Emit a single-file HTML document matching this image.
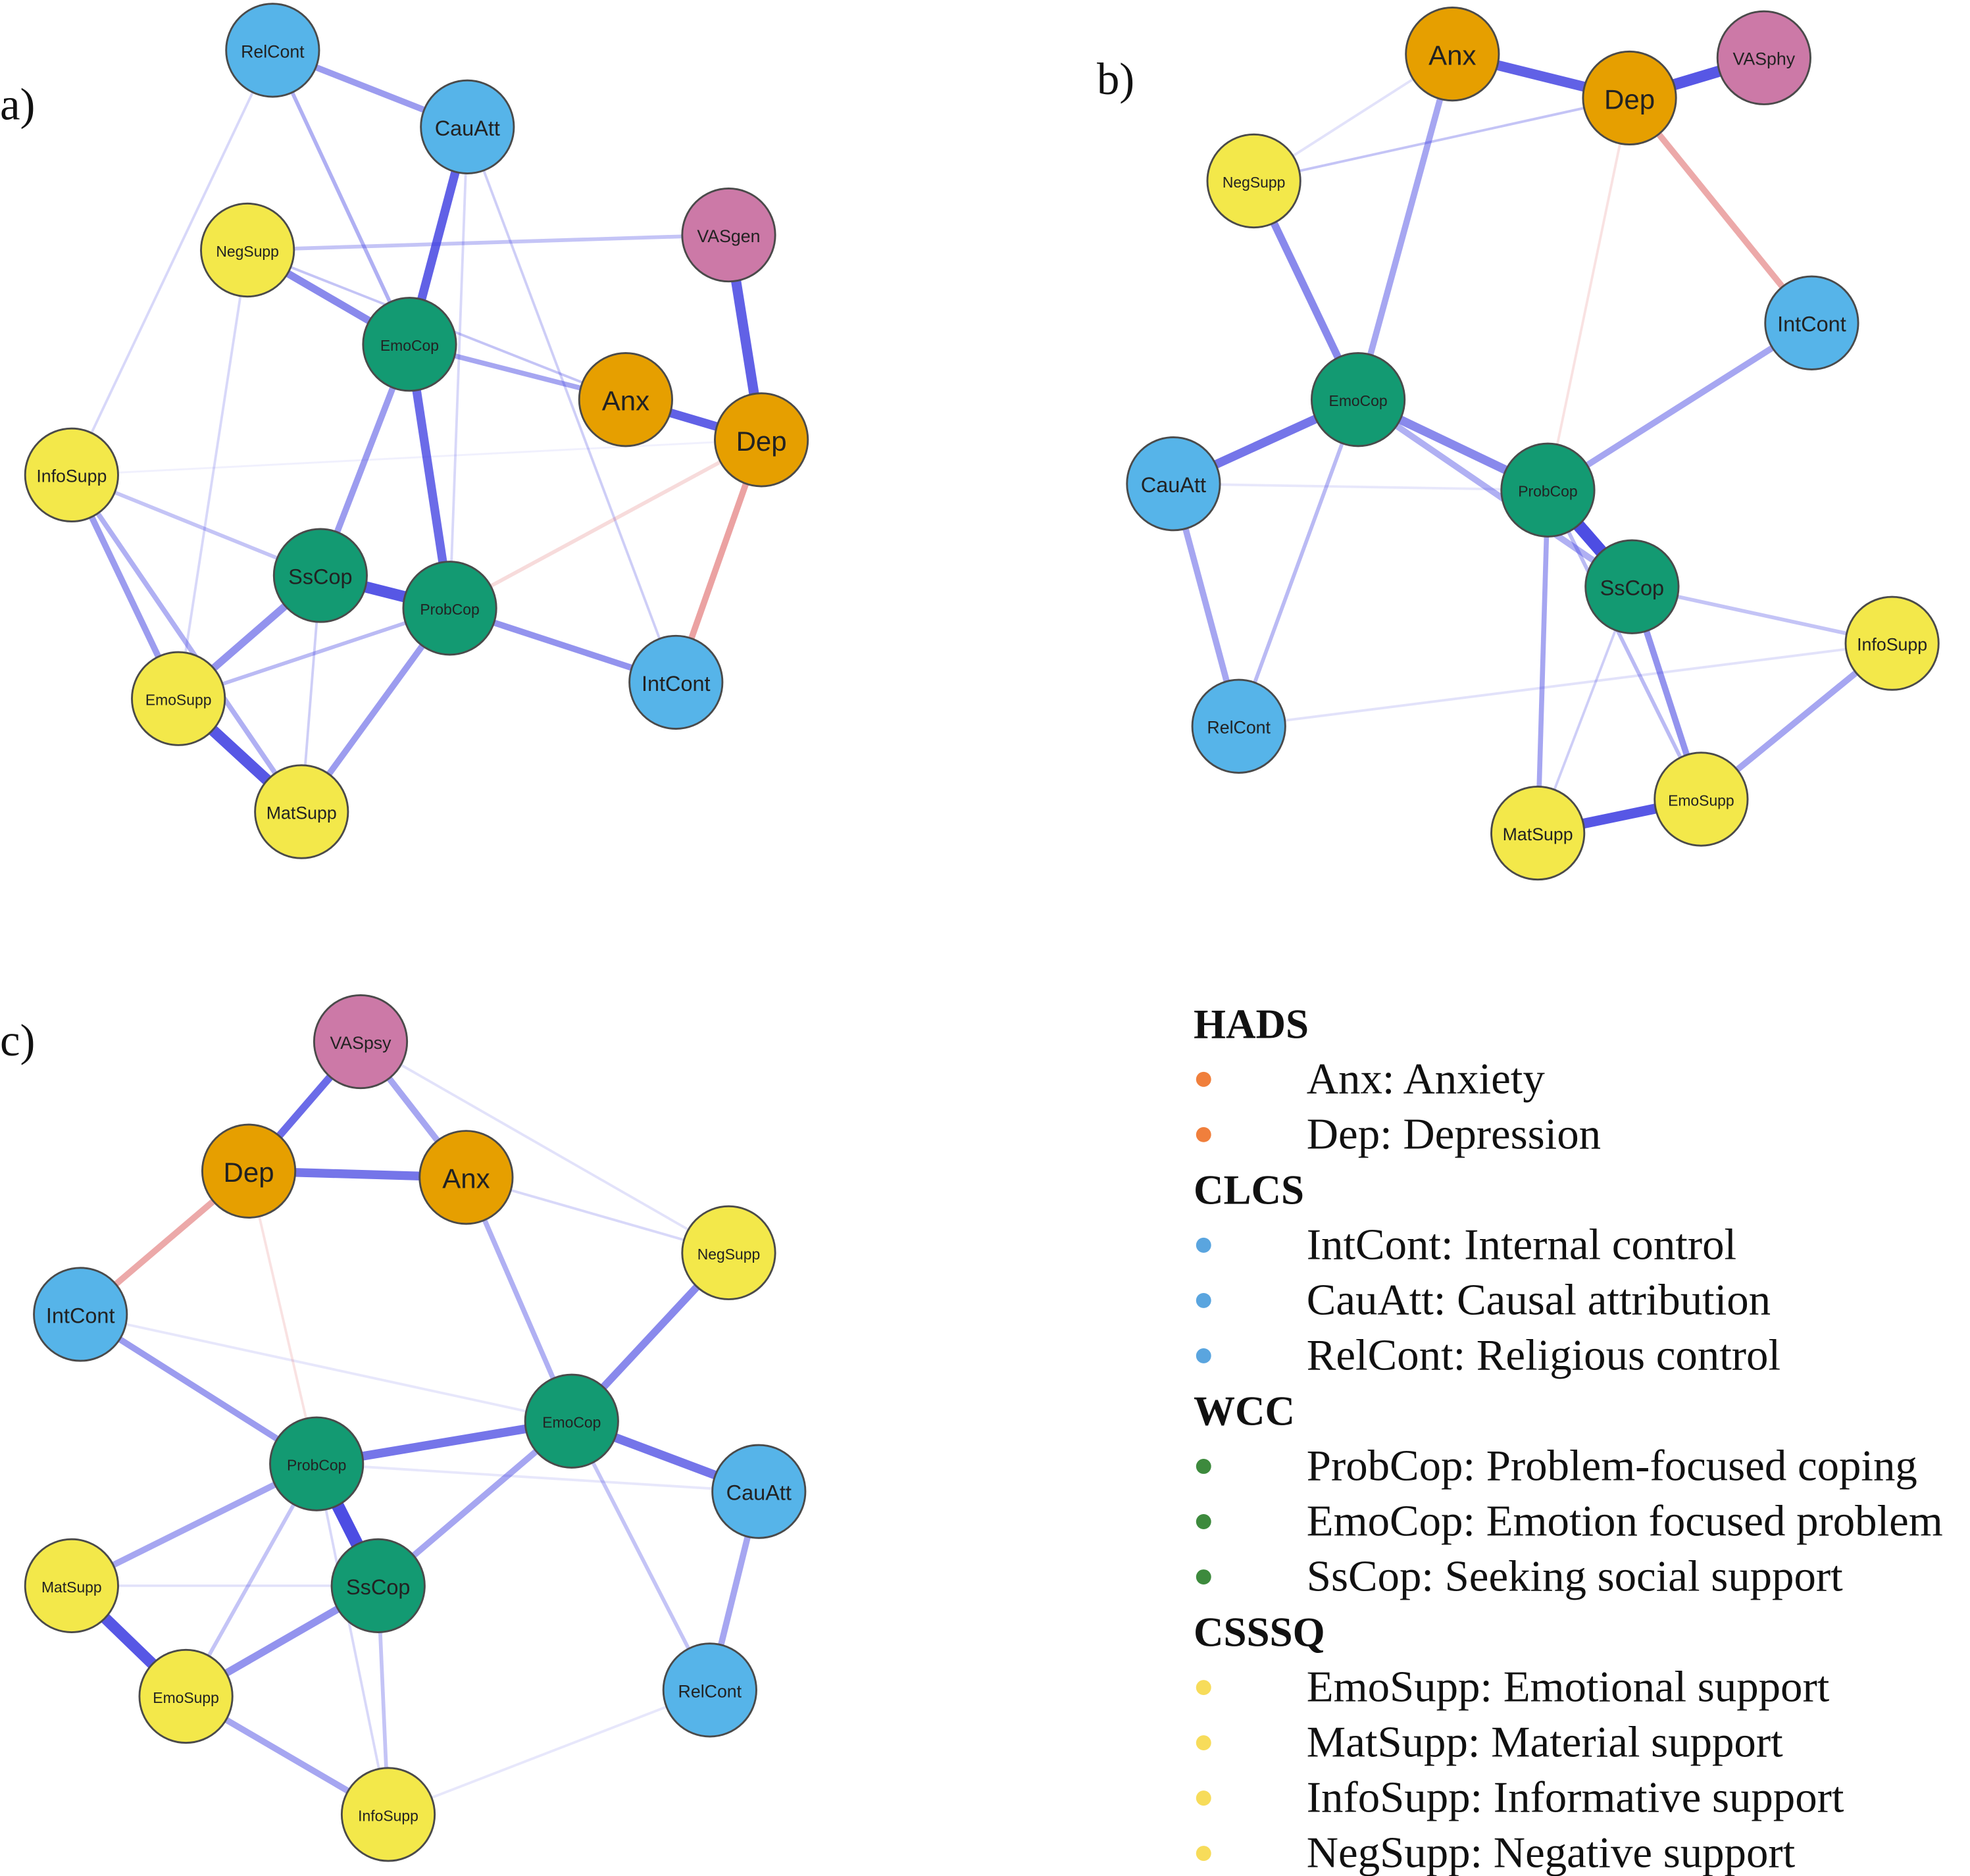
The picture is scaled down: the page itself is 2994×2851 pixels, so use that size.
<!DOCTYPE html>
<html><head><meta charset="utf-8"><style>html,body{margin:0;padding:0;background:#fff}svg{display:block}</style></head>
<body>
<svg width="2994" height="2851" viewBox="0 0 1568 1493" preserveAspectRatio="none" xmlns="http://www.w3.org/2000/svg">
<rect width="1568" height="1493" fill="#fff"/>
<g stroke-linecap="round" fill="none">
<g stroke="#3a3ae0">
<line x1="217" y1="40" x2="372" y2="101" stroke-width="5" opacity=".5"/>
<line x1="217" y1="40" x2="326" y2="274" stroke-width="3" opacity=".4"/>
<line x1="217" y1="40" x2="57" y2="378" stroke-width="2" opacity=".2"/>
<line x1="372" y1="101" x2="326" y2="274" stroke-width="7" opacity=".8"/>
<line x1="372" y1="101" x2="538" y2="543" stroke-width="2" opacity=".25"/>
<line x1="372" y1="101" x2="358" y2="484" stroke-width="2" opacity=".2"/>
<line x1="326" y1="274" x2="358" y2="484" stroke-width="7" opacity=".75"/>
<line x1="197" y1="199" x2="580" y2="187" stroke-width="3" opacity=".3"/>
<line x1="197" y1="199" x2="326" y2="274" stroke-width="6" opacity=".6"/>
<line x1="197" y1="199" x2="498" y2="318" stroke-width="2" opacity=".3"/>
<line x1="197" y1="199" x2="142" y2="556" stroke-width="2" opacity=".2"/>
<line x1="326" y1="274" x2="498" y2="318" stroke-width="4" opacity=".45"/>
<line x1="326" y1="274" x2="255" y2="458" stroke-width="5" opacity=".5"/>
<line x1="580" y1="187" x2="606" y2="350" stroke-width="8" opacity=".8"/>
<line x1="498" y1="318" x2="606" y2="350" stroke-width="7" opacity=".8"/>
<line x1="57" y1="378" x2="255" y2="458" stroke-width="3" opacity=".3"/>
<line x1="57" y1="378" x2="142" y2="556" stroke-width="5" opacity=".5"/>
<line x1="57" y1="378" x2="240" y2="646" stroke-width="4" opacity=".4"/>
<line x1="57" y1="378" x2="606" y2="350" stroke-width="1.5" opacity=".08"/>
<line x1="255" y1="458" x2="358" y2="484" stroke-width="9" opacity=".85"/>
<line x1="255" y1="458" x2="142" y2="556" stroke-width="6" opacity=".55"/>
<line x1="255" y1="458" x2="240" y2="646" stroke-width="2" opacity=".25"/>
<line x1="358" y1="484" x2="538" y2="543" stroke-width="5" opacity=".55"/>
<line x1="358" y1="484" x2="142" y2="556" stroke-width="3" opacity=".35"/>
<line x1="358" y1="484" x2="240" y2="646" stroke-width="5" opacity=".5"/>
<line x1="142" y1="556" x2="240" y2="646" stroke-width="9" opacity=".85"/>
</g>
<g stroke="#e07070">
<line x1="606" y1="350" x2="538" y2="543" stroke-width="5" opacity=".65"/>
<line x1="606" y1="350" x2="358" y2="484" stroke-width="3" opacity=".25"/>
</g>
<g stroke="#3a3ae0">
<line x1="1156" y1="43" x2="1297" y2="78" stroke-width="8" opacity=".8"/>
<line x1="1297" y1="78" x2="1404" y2="46" stroke-width="9" opacity=".85"/>
<line x1="1156" y1="43" x2="998" y2="144" stroke-width="2" opacity=".15"/>
<line x1="1297" y1="78" x2="998" y2="144" stroke-width="2" opacity=".3"/>
<line x1="1156" y1="43" x2="1081" y2="318" stroke-width="5" opacity=".45"/>
<line x1="998" y1="144" x2="1081" y2="318" stroke-width="6" opacity=".6"/>
<line x1="1081" y1="318" x2="934" y2="385" stroke-width="7" opacity=".7"/>
<line x1="1081" y1="318" x2="1232" y2="390" stroke-width="7" opacity=".6"/>
<line x1="1081" y1="318" x2="1299" y2="467" stroke-width="5" opacity=".4"/>
<line x1="1081" y1="318" x2="986" y2="578" stroke-width="3" opacity=".35"/>
<line x1="934" y1="385" x2="986" y2="578" stroke-width="5" opacity=".45"/>
<line x1="934" y1="385" x2="1232" y2="390" stroke-width="2" opacity=".12"/>
<line x1="1442" y1="257" x2="1232" y2="390" stroke-width="5" opacity=".45"/>
<line x1="1232" y1="390" x2="1299" y2="467" stroke-width="10" opacity=".9"/>
<line x1="1232" y1="390" x2="1224" y2="663" stroke-width="4" opacity=".45"/>
<line x1="1232" y1="390" x2="1354" y2="636" stroke-width="3" opacity=".35"/>
<line x1="1299" y1="467" x2="1506" y2="512" stroke-width="3" opacity=".3"/>
<line x1="1299" y1="467" x2="1354" y2="636" stroke-width="5" opacity=".55"/>
<line x1="1299" y1="467" x2="1224" y2="663" stroke-width="2" opacity=".25"/>
<line x1="1506" y1="512" x2="1354" y2="636" stroke-width="5" opacity=".45"/>
<line x1="1354" y1="636" x2="1224" y2="663" stroke-width="8" opacity=".85"/>
<line x1="986" y1="578" x2="1506" y2="512" stroke-width="2" opacity=".15"/>
</g>
<g stroke="#e07070">
<line x1="1297" y1="78" x2="1442" y2="257" stroke-width="5" opacity=".6"/>
<line x1="1297" y1="78" x2="1232" y2="390" stroke-width="2" opacity=".2"/>
</g>
<g stroke="#3a3ae0">
<line x1="287" y1="829" x2="198" y2="932" stroke-width="6" opacity=".75"/>
<line x1="287" y1="829" x2="371" y2="937" stroke-width="5" opacity=".45"/>
<line x1="287" y1="829" x2="580" y2="997" stroke-width="2" opacity=".15"/>
<line x1="198" y1="932" x2="371" y2="937" stroke-width="7" opacity=".7"/>
<line x1="371" y1="937" x2="580" y2="997" stroke-width="2" opacity=".2"/>
<line x1="371" y1="937" x2="455" y2="1131" stroke-width="4" opacity=".4"/>
<line x1="580" y1="997" x2="455" y2="1131" stroke-width="6" opacity=".6"/>
<line x1="64" y1="1046" x2="252" y2="1165" stroke-width="5" opacity=".5"/>
<line x1="64" y1="1046" x2="455" y2="1131" stroke-width="2" opacity=".12"/>
<line x1="455" y1="1131" x2="252" y2="1165" stroke-width="7" opacity=".7"/>
<line x1="455" y1="1131" x2="604" y2="1187" stroke-width="7" opacity=".7"/>
<line x1="455" y1="1131" x2="301" y2="1262" stroke-width="5" opacity=".45"/>
<line x1="455" y1="1131" x2="565" y2="1345" stroke-width="3" opacity=".3"/>
<line x1="604" y1="1187" x2="565" y2="1345" stroke-width="5" opacity=".45"/>
<line x1="252" y1="1165" x2="604" y2="1187" stroke-width="2" opacity=".12"/>
<line x1="252" y1="1165" x2="301" y2="1262" stroke-width="10" opacity=".9"/>
<line x1="252" y1="1165" x2="57" y2="1262" stroke-width="5" opacity=".45"/>
<line x1="252" y1="1165" x2="148" y2="1350" stroke-width="3" opacity=".3"/>
<line x1="252" y1="1165" x2="309" y2="1444" stroke-width="2" opacity=".2"/>
<line x1="57" y1="1262" x2="148" y2="1350" stroke-width="9" opacity=".85"/>
<line x1="57" y1="1262" x2="301" y2="1262" stroke-width="2" opacity=".15"/>
<line x1="301" y1="1262" x2="148" y2="1350" stroke-width="6" opacity=".55"/>
<line x1="301" y1="1262" x2="309" y2="1444" stroke-width="3" opacity=".3"/>
<line x1="148" y1="1350" x2="309" y2="1444" stroke-width="5" opacity=".45"/>
<line x1="309" y1="1444" x2="565" y2="1345" stroke-width="2" opacity=".12"/>
</g>
<g stroke="#e07070">
<line x1="198" y1="932" x2="64" y2="1046" stroke-width="5" opacity=".6"/>
<line x1="198" y1="932" x2="252" y2="1165" stroke-width="2" opacity=".2"/>
</g>
</g>
<g stroke="#4a4a4a" stroke-width="1.5">
<circle cx="217" cy="40" r="37" fill="#56b4e9"/>
<circle cx="372" cy="101" r="37" fill="#56b4e9"/>
<circle cx="197" cy="199" r="37" fill="#f3e84a"/>
<circle cx="580" cy="187" r="37" fill="#cc79a7"/>
<circle cx="326" cy="274" r="37" fill="#139a72"/>
<circle cx="498" cy="318" r="37" fill="#e69f00"/>
<circle cx="606" cy="350" r="37" fill="#e69f00"/>
<circle cx="57" cy="378" r="37" fill="#f3e84a"/>
<circle cx="255" cy="458" r="37" fill="#139a72"/>
<circle cx="358" cy="484" r="37" fill="#139a72"/>
<circle cx="538" cy="543" r="37" fill="#56b4e9"/>
<circle cx="142" cy="556" r="37" fill="#f3e84a"/>
<circle cx="240" cy="646" r="37" fill="#f3e84a"/>
<circle cx="1156" cy="43" r="37" fill="#e69f00"/>
<circle cx="1297" cy="78" r="37" fill="#e69f00"/>
<circle cx="1404" cy="46" r="37" fill="#cc79a7"/>
<circle cx="998" cy="144" r="37" fill="#f3e84a"/>
<circle cx="1442" cy="257" r="37" fill="#56b4e9"/>
<circle cx="1081" cy="318" r="37" fill="#139a72"/>
<circle cx="934" cy="385" r="37" fill="#56b4e9"/>
<circle cx="1232" cy="390" r="37" fill="#139a72"/>
<circle cx="1299" cy="467" r="37" fill="#139a72"/>
<circle cx="1506" cy="512" r="37" fill="#f3e84a"/>
<circle cx="986" cy="578" r="37" fill="#56b4e9"/>
<circle cx="1354" cy="636" r="37" fill="#f3e84a"/>
<circle cx="1224" cy="663" r="37" fill="#f3e84a"/>
<circle cx="287" cy="829" r="37" fill="#cc79a7"/>
<circle cx="198" cy="932" r="37" fill="#e69f00"/>
<circle cx="371" cy="937" r="37" fill="#e69f00"/>
<circle cx="580" cy="997" r="37" fill="#f3e84a"/>
<circle cx="64" cy="1046" r="37" fill="#56b4e9"/>
<circle cx="455" cy="1131" r="37" fill="#139a72"/>
<circle cx="604" cy="1187" r="37" fill="#56b4e9"/>
<circle cx="252" cy="1165" r="37" fill="#139a72"/>
<circle cx="301" cy="1262" r="37" fill="#139a72"/>
<circle cx="57" cy="1262" r="37" fill="#f3e84a"/>
<circle cx="148" cy="1350" r="37" fill="#f3e84a"/>
<circle cx="565" cy="1345" r="37" fill="#56b4e9"/>
<circle cx="309" cy="1444" r="37" fill="#f3e84a"/>
</g>
<g font-family="Liberation Sans, sans-serif" text-anchor="middle" dominant-baseline="central" fill="#222">
<g font-size="22">
<text x="498" y="319">Anx</text><text x="606" y="351">Dep</text>
<text x="1156" y="44">Anx</text><text x="1297" y="79">Dep</text>
<text x="198" y="933">Dep</text><text x="371" y="938">Anx</text>
</g>
<g font-size="17">
<text x="255" y="459">SsCop</text><text x="1299" y="468">SsCop</text><text x="301" y="1263">SsCop</text>
<text x="372" y="102">CauAtt</text><text x="538" y="544">IntCont</text>
<text x="1442" y="258">IntCont</text><text x="934" y="386">CauAtt</text>
<text x="64" y="1047">IntCont</text><text x="604" y="1188">CauAtt</text>
</g>
<g font-size="14">
<text x="217" y="41">RelCont</text><text x="580" y="188">VASgen</text><text x="986" y="579">RelCont</text>
<text x="1404" y="47">VASphy</text><text x="287" y="830">VASpsy</text><text x="565" y="1346">RelCont</text>
<text x="240" y="647">MatSupp</text><text x="57" y="379">InfoSupp</text>
<text x="1506" y="513">InfoSupp</text><text x="1224" y="664">MatSupp</text>
</g>
<g font-size="12">
<text x="197" y="200">NegSupp</text><text x="326" y="275">EmoCop</text><text x="358" y="485">ProbCop</text><text x="142" y="557">EmoSupp</text>
<text x="998" y="145">NegSupp</text><text x="1081" y="319">EmoCop</text><text x="1232" y="391">ProbCop</text><text x="1354" y="637">EmoSupp</text>
<text x="580" y="998">NegSupp</text><text x="455" y="1132">EmoCop</text><text x="252" y="1166">ProbCop</text><text x="57" y="1263">MatSupp</text><text x="148" y="1351">EmoSupp</text><text x="309" y="1445">InfoSupp</text>
</g>
</g>
<g font-family="Liberation Serif, serif" font-size="36" fill="#111">
<text x="0" y="95">a)</text><text x="873" y="75">b)</text><text x="0" y="840">c)</text>
</g>
<g font-family="Liberation Serif, serif" font-size="35" fill="#111">
<g font-weight="bold" font-size="33">
<text x="950" y="826">HADS</text><text x="950" y="958">CLCS</text><text x="950" y="1134">WCC</text><text x="950" y="1310">CSSSQ</text>
</g>
<text x="1040" y="870">Anx: Anxiety</text>
<text x="1040" y="914">Dep: Depression</text>
<text x="1040" y="1002">IntCont: Internal control</text>
<text x="1040" y="1046">CauAtt: Causal attribution</text>
<text x="1040" y="1090">RelCont: Religious control</text>
<text x="1040" y="1178">ProbCop: Problem-focused coping</text>
<text x="1040" y="1222">EmoCop: Emotion focused problem</text>
<text x="1040" y="1266">SsCop: Seeking social support</text>
<text x="1040" y="1354">EmoSupp: Emotional support</text>
<text x="1040" y="1398">MatSupp: Material support</text>
<text x="1040" y="1442">InfoSupp: Informative support</text>
<text x="1040" y="1486">NegSupp: Negative support</text>
</g>
<g>
<circle cx="958" cy="859" r="6" fill="#f07f3c"/><circle cx="958" cy="903" r="6" fill="#f07f3c"/>
<circle cx="958" cy="991" r="6" fill="#5aa5df"/><circle cx="958" cy="1035" r="6" fill="#5aa5df"/><circle cx="958" cy="1079" r="6" fill="#5aa5df"/>
<circle cx="958" cy="1167" r="6" fill="#3d8a3d"/><circle cx="958" cy="1211" r="6" fill="#3d8a3d"/><circle cx="958" cy="1255" r="6" fill="#3d8a3d"/>
<circle cx="958" cy="1343" r="6" fill="#f7dc5a"/><circle cx="958" cy="1387" r="6" fill="#f7dc5a"/><circle cx="958" cy="1431" r="6" fill="#f7dc5a"/><circle cx="958" cy="1475" r="6" fill="#f7dc5a"/>
</g>
</svg>
</body></html>
